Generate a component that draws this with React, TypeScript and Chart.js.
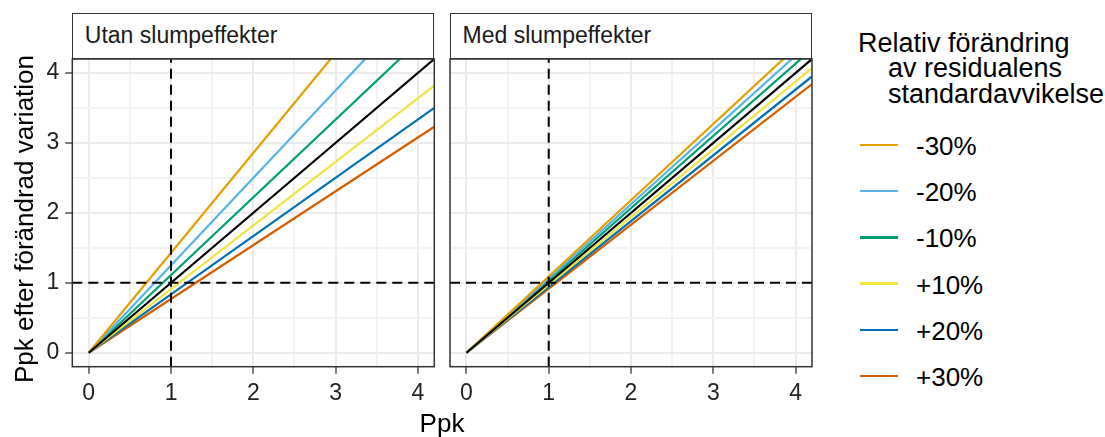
import React, { useEffect, useRef } from "react";
import { Chart, registerables } from "chart.js";

Chart.register(...registerables);

const FONT = "'Liberation Sans', Arial, Helvetica, sans-serif";

const PANEL_TITLES = ["Utan slumpeffekter", "Med slumpeffekter"];
const LEGEND_TITLE_LINES = ["Relativ förändring", "av residualens", "standardavvikelse"];
const SERIES_LABELS = ["-30%", "-20%", "-10%", "+10%", "+20%", "+30%"];
const SERIES_COLORS = ["#E69F00", "#56B4E9", "#009E73", "#F0E442", "#0072B2", "#D55E00"];
const X_TITLE = "Ppk";
const Y_TITLE = "Ppk efter förändrad variation";

// x positions of each line's two end points
const PPK = [0, 4.2];

// Left panel: "Utan slumpeffekter"
const UTAN_MINUS30 = [0, 6.0];
const UTAN_MINUS20 = [0, 5.25];
const UTAN_MINUS10 = [0, 4.667];
const UTAN_PLUS10 = [0, 3.818];
const UTAN_PLUS20 = [0, 3.5];
const UTAN_PLUS30 = [0, 3.231];

// Right panel: "Med slumpeffekter"
const MED_MINUS30 = [0, 4.58];
const MED_MINUS20 = [0, 4.46];
const MED_MINUS10 = [0, 4.34];
const MED_PLUS10 = [0, 4.07];
const MED_PLUS20 = [0, 3.95];
const MED_PLUS30 = [0, 3.84];

// unchanged (black) line
const UNCHANGED = [0, 4.2];

const REF_PPK = 1;
const AXIS_MIN = -0.2;
const AXIS_MAX = 4.2;
const MAJOR_TICKS = [0, 1, 2, 3, 4];
const MINOR_TICKS = [0.5, 1.5, 2.5, 3.5];

const UTAN_SERIES = [UTAN_MINUS30, UTAN_MINUS20, UTAN_MINUS10, UTAN_PLUS10, UTAN_PLUS20, UTAN_PLUS30];
const MED_SERIES = [MED_MINUS30, MED_MINUS20, MED_MINUS10, MED_PLUS10, MED_PLUS20, MED_PLUS30];

const GRID_VALUES = [...MAJOR_TICKS, ...MINOR_TICKS].sort((a, b) => a - b);
const isMajor = (v: number) => MAJOR_TICKS.includes(v);

const borderPlugin = {
  id: "panelBorder",
  afterDraw(chart: any) {
    const { ctx, chartArea: a } = chart;
    ctx.save();
    ctx.strokeStyle = "#333333";
    ctx.lineWidth = 1.5;
    ctx.strokeRect(a.left, a.top, a.right - a.left, a.bottom - a.top);
    ctx.restore();
  },
};

function axisOptions(showLabels: boolean, isX: boolean, size: number) {
  return {
    type: "linear",
    position: isX ? "bottom" : "left",
    min: AXIS_MIN,
    max: AXIS_MAX,
    afterBuildTicks: (s: any) => {
      s.ticks = GRID_VALUES.map((v) => ({ value: v }));
    },
    afterFit: (s: any) => {
      if (isX) s.height = size;
      else s.width = size;
    },
    border: { display: false },
    grid: {
      color: (c: any) => (c.tick && isMajor(c.tick.value) ? "#ebebeb" : "#f2f2f2"),
      lineWidth: 2,
      drawTicks: showLabels,
      tickLength: 7,
      tickWidth: 1.3,
      tickColor: (c: any) => (c.tick && isMajor(c.tick.value) ? "#333333" : "rgba(0,0,0,0)"),
    },
    ticks: {
      display: showLabels,
      autoSkip: false,
      maxRotation: 0,
      padding: 6,
      color: "#222222",
      font: { family: FONT, size: 23 },
      callback: (v: any) => (isMajor(Number(v)) ? String(v) : ""),
    },
  };
}

function Panel(props: { series: number[][]; showY: boolean; left: number; width: number; padLeft: number; padRight: number; yWidth: number }) {
  const ref = useRef<HTMLCanvasElement>(null);
  useEffect(() => {
    const toPts = (ys: number[]) => PPK.map((x, i) => ({ x, y: ys[i] }));
    const base = { pointRadius: 0, tension: 0, clip: 0, fill: false };
    const datasets: any[] = [
      { ...base, data: [{ x: REF_PPK, y: AXIS_MIN }, { x: REF_PPK, y: AXIS_MAX }], borderColor: "#000", borderWidth: 2, borderDash: [10, 6] },
      { ...base, data: [{ x: AXIS_MIN, y: REF_PPK }, { x: AXIS_MAX, y: REF_PPK }], borderColor: "#000", borderWidth: 2, borderDash: [10, 6] },
      { ...base, data: toPts(UNCHANGED), borderColor: "#000000", borderWidth: 2.2 },
      ...props.series.map((ys, i) => ({ ...base, label: SERIES_LABELS[i], data: toPts(ys), borderColor: SERIES_COLORS[i], borderWidth: 2.2 })),
    ];
    const chart = new Chart(ref.current as HTMLCanvasElement, {
      type: "line",
      data: { datasets },
      options: {
        responsive: false,
        animation: false,
        parsing: false as any,
        layout: { padding: { top: 59, right: props.padRight, bottom: 0, left: props.padLeft } },
        plugins: { legend: { display: false }, tooltip: { enabled: false }, title: { display: false } },
        scales: {
          x: axisOptions(true, true, 437 - 366.7) as any,
          y: axisOptions(props.showY, false, props.yWidth) as any,
        },
      },
      plugins: [borderPlugin],
    });
    return () => chart.destroy();
  }, []);
  return (
    <canvas
      ref={ref}
      width={props.width}
      height={437}
      style={{ position: "absolute", left: props.left, top: 0, width: props.width, height: 437, display: "block" }}
    />
  );
}

function Strip(props: { text: string; left: number; width: number }) {
  return (
    <div
      style={{
        position: "absolute",
        left: props.left,
        top: 12.7,
        width: props.width,
        height: 46.3,
        boxSizing: "border-box",
        border: "1.5px solid #333333",
        background: "#ffffff",
        color: "#1a1a1a",
        fontFamily: FONT,
        fontSize: 23,
        display: "flex",
        alignItems: "center",
        paddingLeft: 11.5,
        whiteSpace: "nowrap",
      }}
    >
      {props.text}
    </div>
  );
}

export default function App() {
  return (
    <div style={{ position: "absolute", left: 0, top: 0, width: 1105, height: 437, background: "#ffffff", overflow: "hidden", fontFamily: FONT }}>
      <Panel series={UTAN_SERIES} showY={true} left={0} width={440} padLeft={0} padRight={5.7} yWidth={72.3} />
      <Panel series={MED_SERIES} showY={false} left={440} width={380} padLeft={10} padRight={8} yWidth={0} />
      <Strip text={PANEL_TITLES[0]} left={72.3} width={362} />
      <Strip text={PANEL_TITLES[1]} left={450} width={362} />
      <div
        style={{
          position: "absolute",
          left: 24.3 - 200,
          top: 219 - 13,
          width: 400,
          height: 26,
          lineHeight: "26px",
          fontSize: 26,
          textAlign: "center",
          transform: "rotate(-90deg)",
          whiteSpace: "nowrap",
          color: "#000",
        }}
      >
        {Y_TITLE}
      </div>
      <div
        style={{ position: "absolute", left: 342, top: 410, width: 200, lineHeight: "26px", fontSize: 26, textAlign: "center", color: "#000" }}
      >
        {X_TITLE}
      </div>
      {LEGEND_TITLE_LINES.map((t, i) => (
        <div
          key={t}
          style={{ position: "absolute", left: i === 0 ? 858 : 888, top: 30.5 + i * 25.7, lineHeight: "25.7px", fontSize: 27, whiteSpace: "nowrap", color: "#000" }}
        >
          {t}
        </div>
      ))}
      {SERIES_LABELS.map((lab, i) => {
        const cy = 145 + i * 46.2;
        return (
          <React.Fragment key={lab}>
            <div style={{ position: "absolute", left: 860, top: cy - 1.25, width: 38, height: 2.5, background: SERIES_COLORS[i] }} />
            <div style={{ position: "absolute", left: 916, top: cy - 12, lineHeight: "26px", fontSize: 26, whiteSpace: "nowrap", color: "#000" }}>{lab}</div>
          </React.Fragment>
        );
      })}
    </div>
  );
}
